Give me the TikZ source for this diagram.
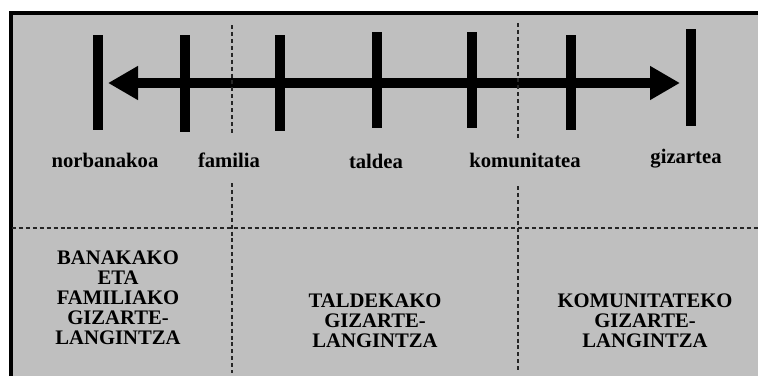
\documentclass[tikz,border=0pt]{standalone}
\usepackage{fontspec}
\setmainfont{Liberation Serif}
\usetikzlibrary{arrows.meta}

\begin{document}
\begin{tikzpicture}[x=0.75pt,y=-0.75pt,
                    bar/.style={line width=7.5pt},
                    sep/.style={line width=1.1pt,dash pattern=on 3pt off 2.2pt,black!85},
                    level/.style={anchor=base,inner sep=0pt,font=\fontsize{15.5}{15}\selectfont\bfseries},
                    work/.style={align=center,inner sep=0pt,font=\fontsize{15.5}{15}\selectfont\bfseries}]

  \useasboundingbox (0,0) rectangle (758,376);
  \fill[black!25] (11,13) rectangle (758,376);
  \draw[line width=2.4pt] (11,376) -- (11,13) -- (758,13);

  % scale
  \foreach \x/\a/\b in {98/35/130, 185/35/132, 280/35/131, 377/32/128,
                        472/32/128, 571/35/130, 691/29/126}
    \draw[bar] (\x,\a) -- (\x,\b);

  \coordinate (left)  at (108,83);
  \coordinate (right) at (680,83);
  \draw[bar,{Triangle[length=22.5pt,width=24pt]}-{Triangle[length=22.5pt,width=24pt]}]
    (left) -- (right);

  % separators
  \draw[sep] (232,25) -- (232,133);
  \draw[sep] (232,183) -- (232,373);
  \draw[sep] (518,23) -- (518,140);
  \draw[sep] (518,186) -- (518,370);
  \draw[sep] (12,228) -- (758,228);

  \node[level] (IND) at (105,167) {norbanakoa};
  \node[level] (FAM) at (229,167) {familia};
  \node[level] (TAL) at (376,168) {taldea};
  \node[level] (KOM) at (525,167) {komunitatea};
  \node[level] (GIZ) at (686,163) {gizartea};

  \node[work] (BFG) at (118,298) {BANAKAKO\\ETA\\FAMILIAKO\\GIZARTE-\\LANGINTZA};
  \node[work] (TG)  at (375,321) {TALDEKAKO\\GIZARTE-\\LANGINTZA};
  \node[work] (KG)  at (645,321) {KOMUNITATEKO\\GIZARTE-\\LANGINTZA};
\end{tikzpicture}
\end{document}
